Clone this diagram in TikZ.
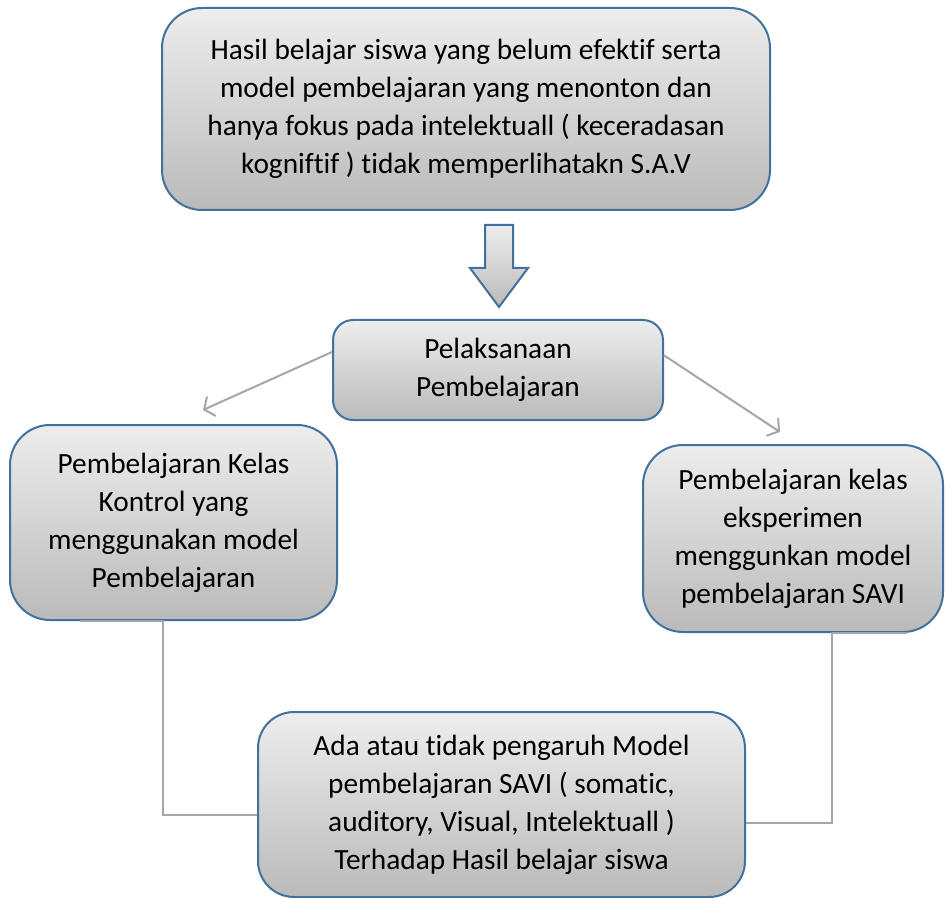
\documentclass[tikz,border=0pt]{standalone}
\usepackage{fontspec}
\setmainfont{Carlito}[Ligatures=NoCommon]
\usetikzlibrary{arrows.meta, positioning, calc}

\definecolor{boxline}{RGB}{65,113,156}
\definecolor{linkgray}{RGB}{166,166,166}

\begin{document}
\begin{tikzpicture}[
      x=0.75pt, y=-0.75pt,
      box/.style={rectangle, draw=boxline, line width=1.5pt, top color=black!7, bottom color=black!27, align=center, font=\fontsize{22}{28.5}\selectfont, inner sep=0pt},
      problem/.style={box, rounded corners=30pt, minimum width=456pt, minimum height=151.5pt},
      process/.style={box, rounded corners=15pt, minimum width=247.5pt, minimum height=75pt},
      kelas/.style={box, rounded corners=30pt},
      hasil/.style={box, rounded corners=27pt, minimum width=365.25pt, minimum height=138.75pt},
      blockarrow/.style={draw=boxline, line width=1.5pt, top color=black!7, bottom color=black!27},
      arrow/.style={-{Straight Barb[length=6pt, width=16pt]}, draw=linkgray, line width=1.5pt},
      link/.style={draw=linkgray, line width=1.5pt}
    ]
    \useasboundingbox (0,0) rectangle (945,898);

    \node[problem] (masalah) at (466,109) {Hasil belajar siswa yang belum efektif serta\\model pembelajaran yang menonton dan\\hanya fokus pada intelektuall ( keceradasan\\kogniftif ) tidak memperlihatakn S.A.V};
    \node[process] (pelaksanaan) at (498,370) {Pelaksanaan\\Pembelajaran};
    \node[kelas, minimum width=245.25pt, minimum height=146.25pt] (kontrol) at (173.5,522.5) {Pembelajaran Kelas\\Kontrol yang\\menggunakan model\\Pembelajaran};
    \node[kelas, minimum width=225pt, minimum height=140.25pt] (eksperimen) at (793,538.5) {Pembelajaran kelas\\eksperimen\\menggunkan model\\pembelajaran SAVI};
    \node[hasil] (pengaruh) at (501.5,804.5) {Ada atau tidak pengaruh Model\\pembelajaran SAVI ( somatic,\\auditory, Visual, Intelektuall )\\Terhadap Hasil belajar siswa};

    % panah blok ke bawah
    \draw[blockarrow] (485,225) -- ++(28,0) -- ++(0,43) -- ++(15,0) -- (499,307) -- (470,268) -- ++(15,0) -- cycle;

    \coordinate (kiri) at (203,410);
    \coordinate (kanan) at (780,432);
    \draw[arrow] ([yshift=13.5pt]pelaksanaan.west) -- (kiri);
    \draw[arrow] ([yshift=11pt]pelaksanaan.east) -- (kanan);

    \draw[link] ([xshift=-70pt]kontrol.south) -- ([xshift=-7.9pt]kontrol.south) |- ([yshift=-7.5pt]pengaruh.west);
    \draw[link] ([xshift=85.5pt]eksperimen.south) -- ([xshift=29.25pt]eksperimen.south) |- ([yshift=-13.5pt]pengaruh.east);
  \end{tikzpicture}
\end{document}
